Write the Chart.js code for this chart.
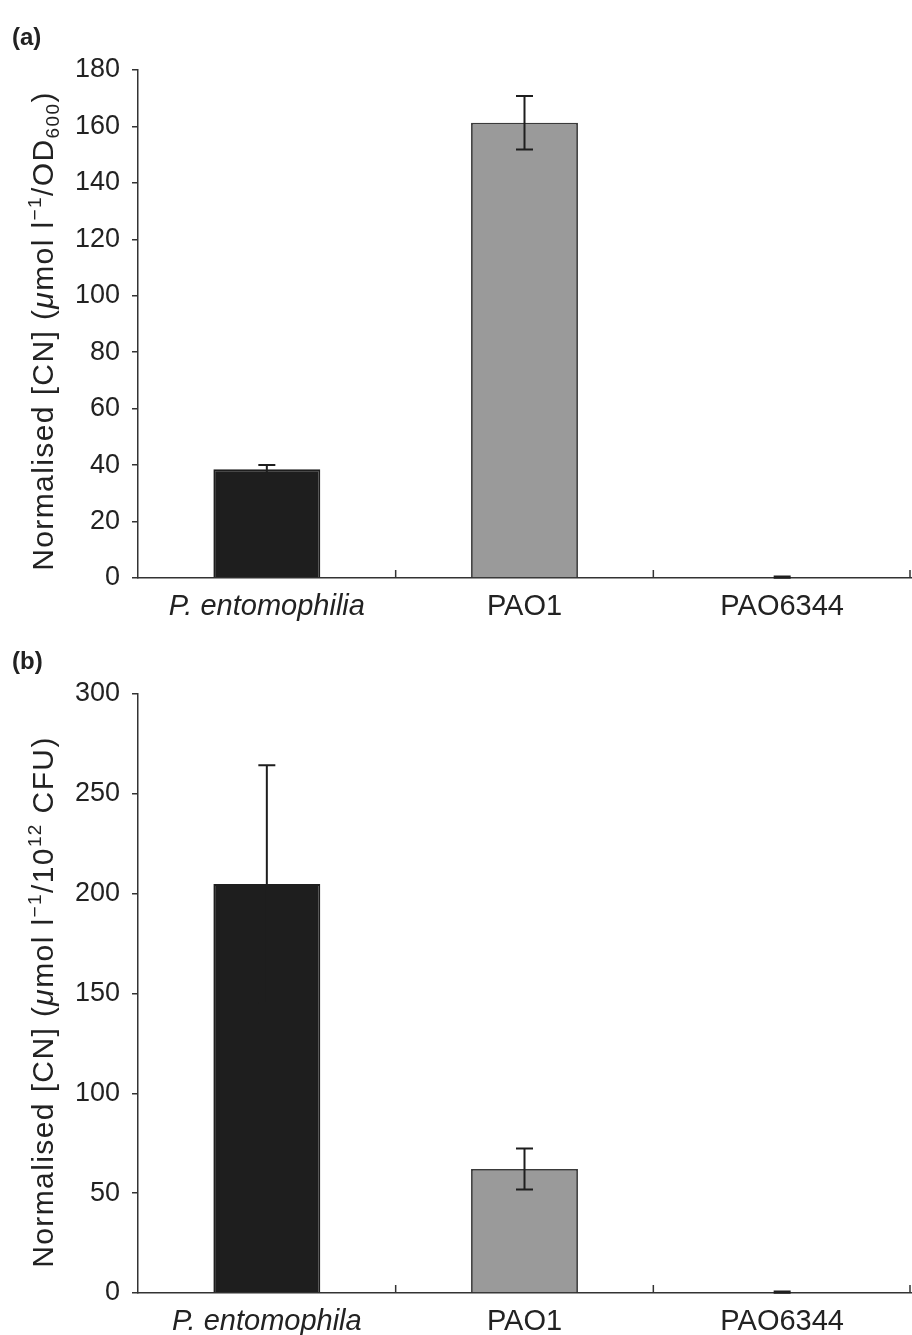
<!DOCTYPE html>
<html>
<head>
<meta charset="utf-8">
<script src="https://cdn.jsdelivr.net/npm/chart.js@4.4.0/dist/chart.umd.min.js"></script>
<style>
  body { margin: 0; background: #fff; }
  #page { position: relative; width: 912px; height: 1335px; font-family: "Liberation Sans", Arial, sans-serif; }
  .panel { position: absolute; left: 0; width: 912px; }
  #panelA { top: 0; height: 640px; }
  #panelB { top: 640px; height: 695px; }
  .tag { position: absolute; left: 12px; font-weight: bold; font-size: 24px; color: #222; }
</style>
</head>
<body>
<div id="page">
  <div class="panel" id="panelA"><canvas id="chartA"></canvas></div>
  <div class="panel" id="panelB"><canvas id="chartB"></canvas></div>
  <div class="tag" style="top:23px">(a)</div>
  <div class="tag" style="top:647px">(b)</div>
</div>
<script>
// panel (a): cyanide normalised to OD600
const categoriesA = ['P. entomophilia', 'PAO1', 'PAO6344'];
const cnPerOD = [38.5, 161.3, 0.3];
const cnPerODErr = [1.5, 9.5, 0.2];
const ticksA = { max: 180, step: 20 };

// panel (b): cyanide normalised to 10^12 CFU
const categoriesB = ['P. entomophila', 'PAO1', 'PAO6344'];
const cnPerCFU = [204.8, 62.1, 0.4];
const cnPerCFUErr = [59.5, 10.3, 0.3];
const ticksB = { max: 300, step: 50 };

const ink = '#1e1e1e';
const barColors = [ink, '#9a9a9a', '#9a9a9a'];
const axisColor = '#333';
const FONT = '"Liberation Sans", Arial, sans-serif';

const errorBars = {
  id: 'errorBars',
  afterDatasetsDraw(chart, args, opts) {
    const ctx = chart.ctx, y = chart.scales.y;
    const vals = chart.data.datasets[0].data;
    const meta = chart.getDatasetMeta(0);
    ctx.save();
    ctx.strokeStyle = ink;
    ctx.lineWidth = 2;
    meta.data.forEach((bar, i) => {
      const e = opts.errors[i];
      const hi = y.getPixelForValue(vals[i] + e);
      const lo = y.getPixelForValue(Math.max(0, vals[i] - e));
      const half = 8.5;
      ctx.beginPath();
      ctx.moveTo(bar.x, hi); ctx.lineTo(bar.x, lo);
      ctx.moveTo(bar.x - half, hi); ctx.lineTo(bar.x + half, hi);
      ctx.moveTo(bar.x - half, lo); ctx.lineTo(bar.x + half, lo);
      ctx.stroke();
    });
    ctx.restore();
  }
};

// small upward ticks between categories on the x axis
const innerTicks = {
  id: 'innerTicks',
  afterDraw(chart) {
    const ctx = chart.ctx, x = chart.scales.x, area = chart.chartArea;
    const n = chart.data.labels.length;
    const pos = [];
    for (let i = 0; i < n - 1; i++) pos.push((x.getPixelForTick(i) + x.getPixelForTick(i + 1)) / 2);
    pos.push(area.right - 1);
    ctx.save();
    ctx.strokeStyle = axisColor;
    ctx.lineWidth = 1.5;
    pos.forEach(px => {
      ctx.beginPath();
      ctx.moveTo(px, area.bottom);
      ctx.lineTo(px, area.bottom - 8);
      ctx.stroke();
    });
    ctx.restore();
  }
};

// rotated y title with italic mu, superscripts and subscripts
const richTitle = {
  id: 'richTitle',
  afterDraw(chart, args, opts) {
    const ctx = chart.ctx, size = opts.size;
    const fontFor = p => (p.italic ? 'italic ' : '') + (p.sup || p.sub ? Math.round(size * 0.62) : size) + 'px ' + FONT;
    ctx.save();
    ctx.letterSpacing = opts.spacing + 'px';
    let total = 0;
    opts.parts.forEach(p => { ctx.font = fontFor(p); p.w = ctx.measureText(p.t).width; total += p.w; });
    ctx.translate(opts.x, opts.y);
    ctx.rotate(-Math.PI / 2);
    ctx.fillStyle = '#222';
    ctx.textAlign = 'left';
    ctx.textBaseline = 'alphabetic';
    let cx = -total / 2;
    const base = size * 0.36;
    opts.parts.forEach(p => {
      ctx.font = fontFor(p);
      const dy = p.sup ? -size * 0.4 : p.sub ? size * 0.22 : 0;
      ctx.fillText(p.t, cx, base + dy);
      cx += p.w;
    });
    ctx.restore();
  }
};

function makeChart(id, labels, values, errors, ticks, geom, titleParts) {
  return new Chart(document.getElementById(id), {
    type: 'bar',
    data: {
      labels: labels,
      datasets: [{
        data: values,
        backgroundColor: barColors,
        borderColor: [ink, '#3a3a3a', '#3a3a3a'],
        borderWidth: 1.8,
        borderSkipped: 'bottom',
        categoryPercentage: 1,
        barPercentage: 0.415
      }]
    },
    options: {
      responsive: true,
      maintainAspectRatio: false,
      animation: false,
      events: [],
      layout: { padding: { top: geom.top, right: 1, left: 0, bottom: 0 } },
      plugins: {
        legend: { display: false },
        tooltip: { enabled: false },
        errorBars: { errors: errors },
        richTitle: { parts: titleParts, size: 30, spacing: 1.4, x: 42, y: geom.titleY }
      },
      scales: {
        x: {
          afterFit: s => { s.height = geom.xHeight; },
          grid: { display: false },
          border: { display: true, color: axisColor, width: 1.5 },
          ticks: {
            padding: 4,
            color: '#222',
            font: c => ({ family: FONT, size: 29, style: c.index === 0 ? 'italic' : 'normal' })
          }
        },
        y: {
          min: 0,
          max: ticks.max,
          afterFit: s => { s.width = 138; },
          grid: { drawOnChartArea: false, drawTicks: true, tickLength: 6, color: axisColor, lineWidth: 1.5 },
          border: { display: true, color: axisColor, width: 1.5 },
          ticks: { stepSize: ticks.step, padding: 12, color: '#222', font: { family: FONT, size: 27 } }
        }
      }
    },
    plugins: [errorBars, innerTicks, richTitle]
  });
}

makeChart('chartA', categoriesA, cnPerOD, cnPerODErr, ticksA,
  { top: 70, xHeight: 62, titleY: 331 },
  [{ t: 'Normalised [CN] (' }, { t: '\u03bc', italic: true }, { t: 'mol l' }, { t: '\u22121', sup: true },
   { t: '/OD' }, { t: '600', sub: true }, { t: ')' }]);

makeChart('chartB', categoriesB, cnPerCFU, cnPerCFUErr, ticksB,
  { top: 54, xHeight: 42, titleY: 362 },
  [{ t: 'Normalised [CN] (' }, { t: '\u03bc', italic: true }, { t: 'mol l' }, { t: '\u22121', sup: true },
   { t: '/10' }, { t: '12', sup: true }, { t: ' CFU)' }]);
</script>
</body>
</html>
